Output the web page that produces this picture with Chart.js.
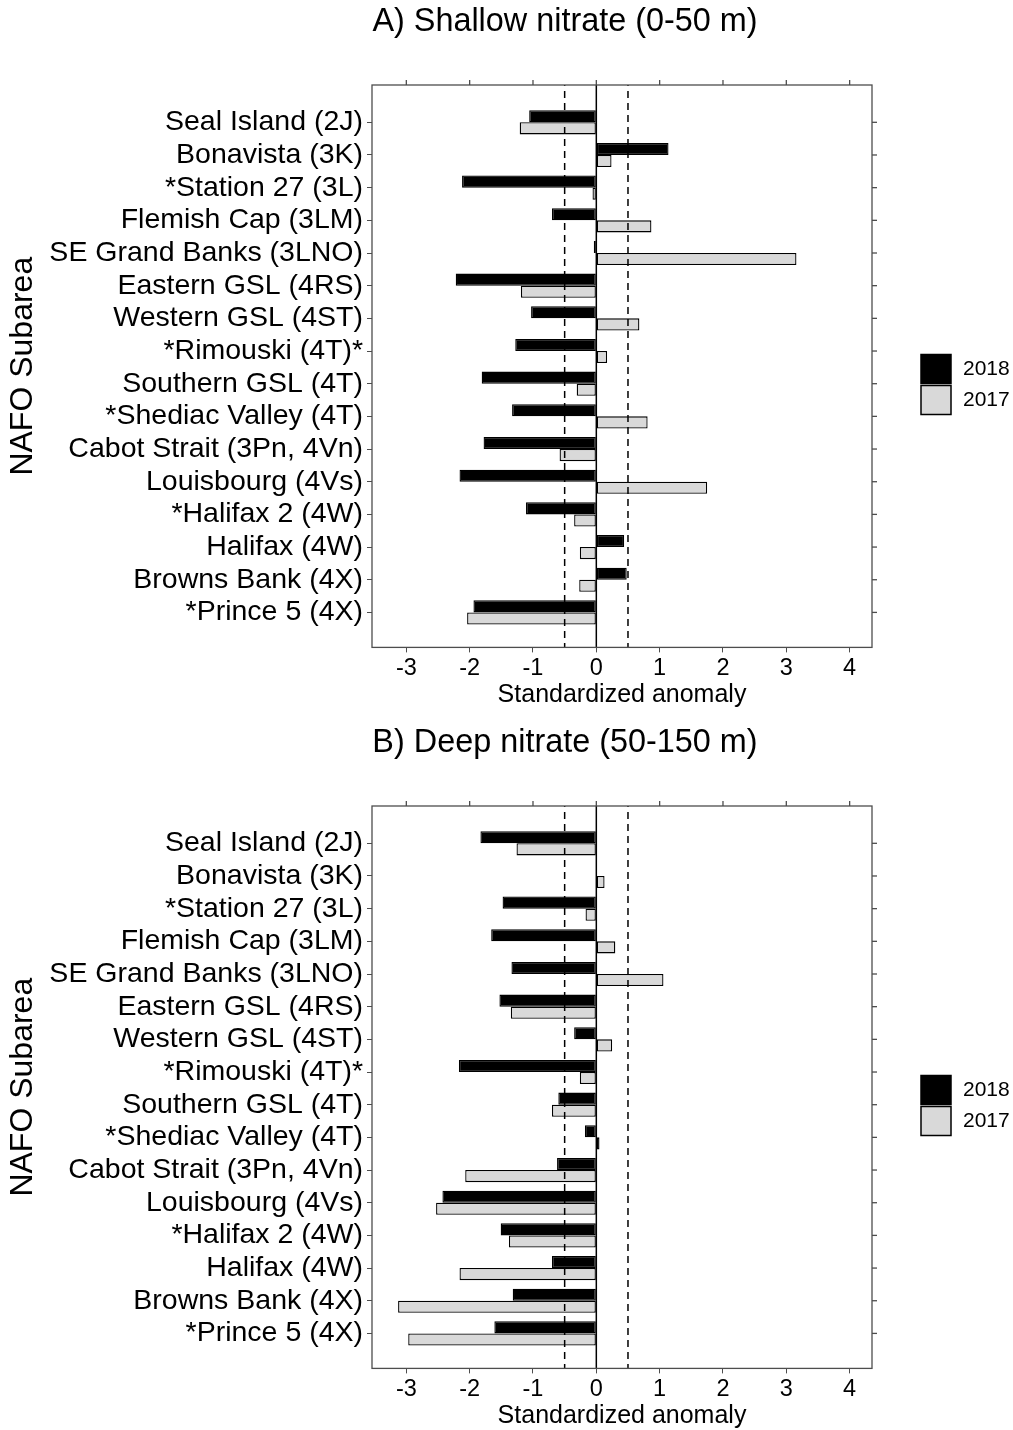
<!DOCTYPE html>
<html lang="en">
<head>
  <meta charset="UTF-8">
  <title>Nitrate anomalies by NAFO subarea</title>
  <script src="https://cdn.jsdelivr.net/npm/chart.js"></script>
  <style>
    html, body { margin: 0; padding: 0; background: #fff; }
    canvas { display: block; }
  </style>
</head>
<body>
  <canvas id="shallow" width="1013" height="721"></canvas>
  <canvas id="deep" width="1013" height="709"></canvas>

  <script>
    // Subareas, top to bottom
    const subareas = [
      "Seal Island (2J)", "Bonavista (3K)", "*Station 27 (3L)", "Flemish Cap (3LM)",
      "SE Grand Banks (3LNO)", "Eastern GSL (4RS)", "Western GSL (4ST)", "*Rimouski (4T)*",
      "Southern GSL (4T)", "*Shediac Valley (4T)", "Cabot Strait (3Pn, 4Vn)", "Louisbourg (4Vs)",
      "*Halifax 2 (4W)", "Halifax (4W)", "Browns Bank (4X)", "*Prince 5 (4X)"
    ];
    const years = ["2018", "2017"];

    // A) Shallow nitrate (0-50 m)
    const shallow2018 = [-1.06, 1.14, -2.12, -0.70, -0.04, -2.22, -1.03, -1.28,
                         -1.81, -1.33, -1.78, -2.16, -1.11, 0.44, 0.48, -1.94];
    const shallow2017 = [-1.21, 0.24, -0.06, 0.87, 3.16, -1.19, 0.68, 0.17,
                         -0.31, 0.81, -0.58, 1.75, -0.35, -0.26, -0.27, -2.04];

    // B) Deep nitrate (50-150 m)
    const deep2018 = [-1.83, 0.01, -1.48, -1.66, -1.34, -1.53, -0.35, -2.17,
                      -0.60, -0.18, -0.62, -2.43, -1.51, -0.70, -1.32, -1.61];
    const deep2017 = [-1.26, 0.13, -0.17, 0.30, 1.06, -1.35, 0.25, -0.26,
                      -0.70, 0.05, -2.07, -2.53, -1.38, -2.16, -3.13, -2.97];

    const xTicks = [-3, -2, -1, 0, 1, 2, 3, 4];
    const refLines = [-0.5, 0.5];

    const FONT = "'Liberation Sans', Arial, sans-serif";
    const colours = ["#000000", "#d9d9d9"];
    const axisGrey = "#4d4d4d";

    function line(ctx, x1, y1, x2, y2) {
      ctx.beginPath();
      ctx.moveTo(x1, y1);
      ctx.lineTo(x2, y2);
      ctx.stroke();
    }

    // box, reference lines, ticks on top/right, titles and legend
    const framePlugin = {
      id: "frame",
      afterDatasetsDraw(chart) {
        const { ctx, chartArea: a, scales: { x, y } } = chart;
        ctx.save();
        ctx.strokeStyle = "#000";
        ctx.lineWidth = 1.5;
        ctx.setLineDash([7, 5]);
        ctx.lineDashOffset = -6;
        refLines.forEach(v => {
          const px = x.getPixelForValue(v);
          line(ctx, px, a.top, px, a.bottom);
        });
        ctx.setLineDash([]);
        const zx = x.getPixelForValue(0);
        line(ctx, zx, a.top, zx, a.bottom);

        ctx.strokeStyle = axisGrey;
        ctx.lineWidth = 1.3;
        ctx.strokeRect(a.left, a.top, a.width, a.height);
        xTicks.forEach(v => {
          const px = x.getPixelForValue(v);
          line(ctx, px, a.top - 5, px, a.top);
        });
        subareas.forEach((_, i) => {
          const py = y.getPixelForValue(i);
          line(ctx, a.right, py, a.right + 5, py);
        });
        ctx.restore();
      },
      afterDraw(chart, args, opts) {
        const { ctx, chartArea: a } = chart;
        ctx.save();
        ctx.fillStyle = "#000";

        ctx.font = "32.4px " + FONT;
        ctx.textAlign = "center";
        ctx.textBaseline = "alphabetic";
        ctx.fillText(opts.title, 565, 31);

        ctx.font = "25px " + FONT;
        ctx.fillText("Standardized anomaly", (a.left + a.right) / 2, a.bottom + 55);

        ctx.save();
        ctx.translate(32, (a.top + a.bottom) / 2);
        ctx.rotate(-Math.PI / 2);
        ctx.font = "32px " + FONT;
        ctx.fillText("NAFO Subarea", 0, 0);
        ctx.restore();

        // legend
        ctx.font = "21px " + FONT;
        ctx.textAlign = "left";
        ctx.textBaseline = "middle";
        chart.data.datasets.forEach((ds, i) => {
          const top = 354.5 + i * 31;
          ctx.fillStyle = ds.backgroundColor;
          ctx.fillRect(921, top, 30, 29);
          ctx.strokeStyle = "#000";
          ctx.lineWidth = 1.5;
          ctx.strokeRect(921, top, 30, 29);
          ctx.fillStyle = "#000";
          ctx.fillText(ds.label, 963, top + 15);
        });
        ctx.restore();
      }
    };

    function makeChart(id, title, vals2018, vals2017) {
      const canvas = document.getElementById(id);
      const H = canvas.height;
      const series = [vals2018, vals2017];
      return new Chart(canvas, {
        type: "bar",
        data: {
          datasets: years.map((yr, k) => ({
            label: yr,
            data: subareas.map((_, i) => ({ x: series[k][i], y: i })),
            backgroundColor: colours[k],
            borderColor: "#000",
            borderWidth: 1.3,
            borderSkipped: false,
            categoryPercentage: 0.74,
            barPercentage: 1.0
          }))
        },
        options: {
          indexAxis: "y",
          responsive: false,
          animation: false,
          layout: { padding: { top: 85, right: 141, left: 0, bottom: 0 } },
          plugins: {
            legend: { display: false },
            tooltip: { enabled: false },
            frame: { title: title }
          },
          scales: {
            x: {
              type: "linear",
              position: "bottom",
              offset: false,
              min: -3.542,
              max: 4.353,
              afterBuildTicks: scale => { scale.ticks = xTicks.map(v => ({ value: v })); },
              afterFit: scale => { scale.height = H - 647.4; },
              grid: { offset: false, drawOnChartArea: false, drawTicks: true, tickLength: 5, color: axisGrey, tickColor: axisGrey },
              border: { display: false },
              ticks: { autoSkip: false, maxRotation: 0, color: "#000", padding: 2, font: { family: FONT, size: 23.5 } }
            },
            y: {
              type: "linear",
              position: "left",
              offset: false,
              reverse: true,
              min: -1.142,
              max: 16.071,
              afterBuildTicks: scale => { scale.ticks = subareas.map((_, i) => ({ value: i })); },
              afterFit: scale => { scale.width = 372; },
              grid: { offset: false, drawOnChartArea: false, drawTicks: true, tickLength: 5, color: axisGrey, tickColor: axisGrey },
              border: { display: false },
              ticks: {
                autoSkip: false,
                color: "#000",
                padding: 4,
                font: { family: FONT, size: 28.5 },
                callback: v => subareas[v]
              }
            }
          }
        },
        plugins: [framePlugin]
      });
    }

    makeChart("shallow", "A) Shallow nitrate (0-50 m)", shallow2018, shallow2017);
    makeChart("deep", "B) Deep nitrate (50-150 m)", deep2018, deep2017);
  </script>
</body>
</html>
